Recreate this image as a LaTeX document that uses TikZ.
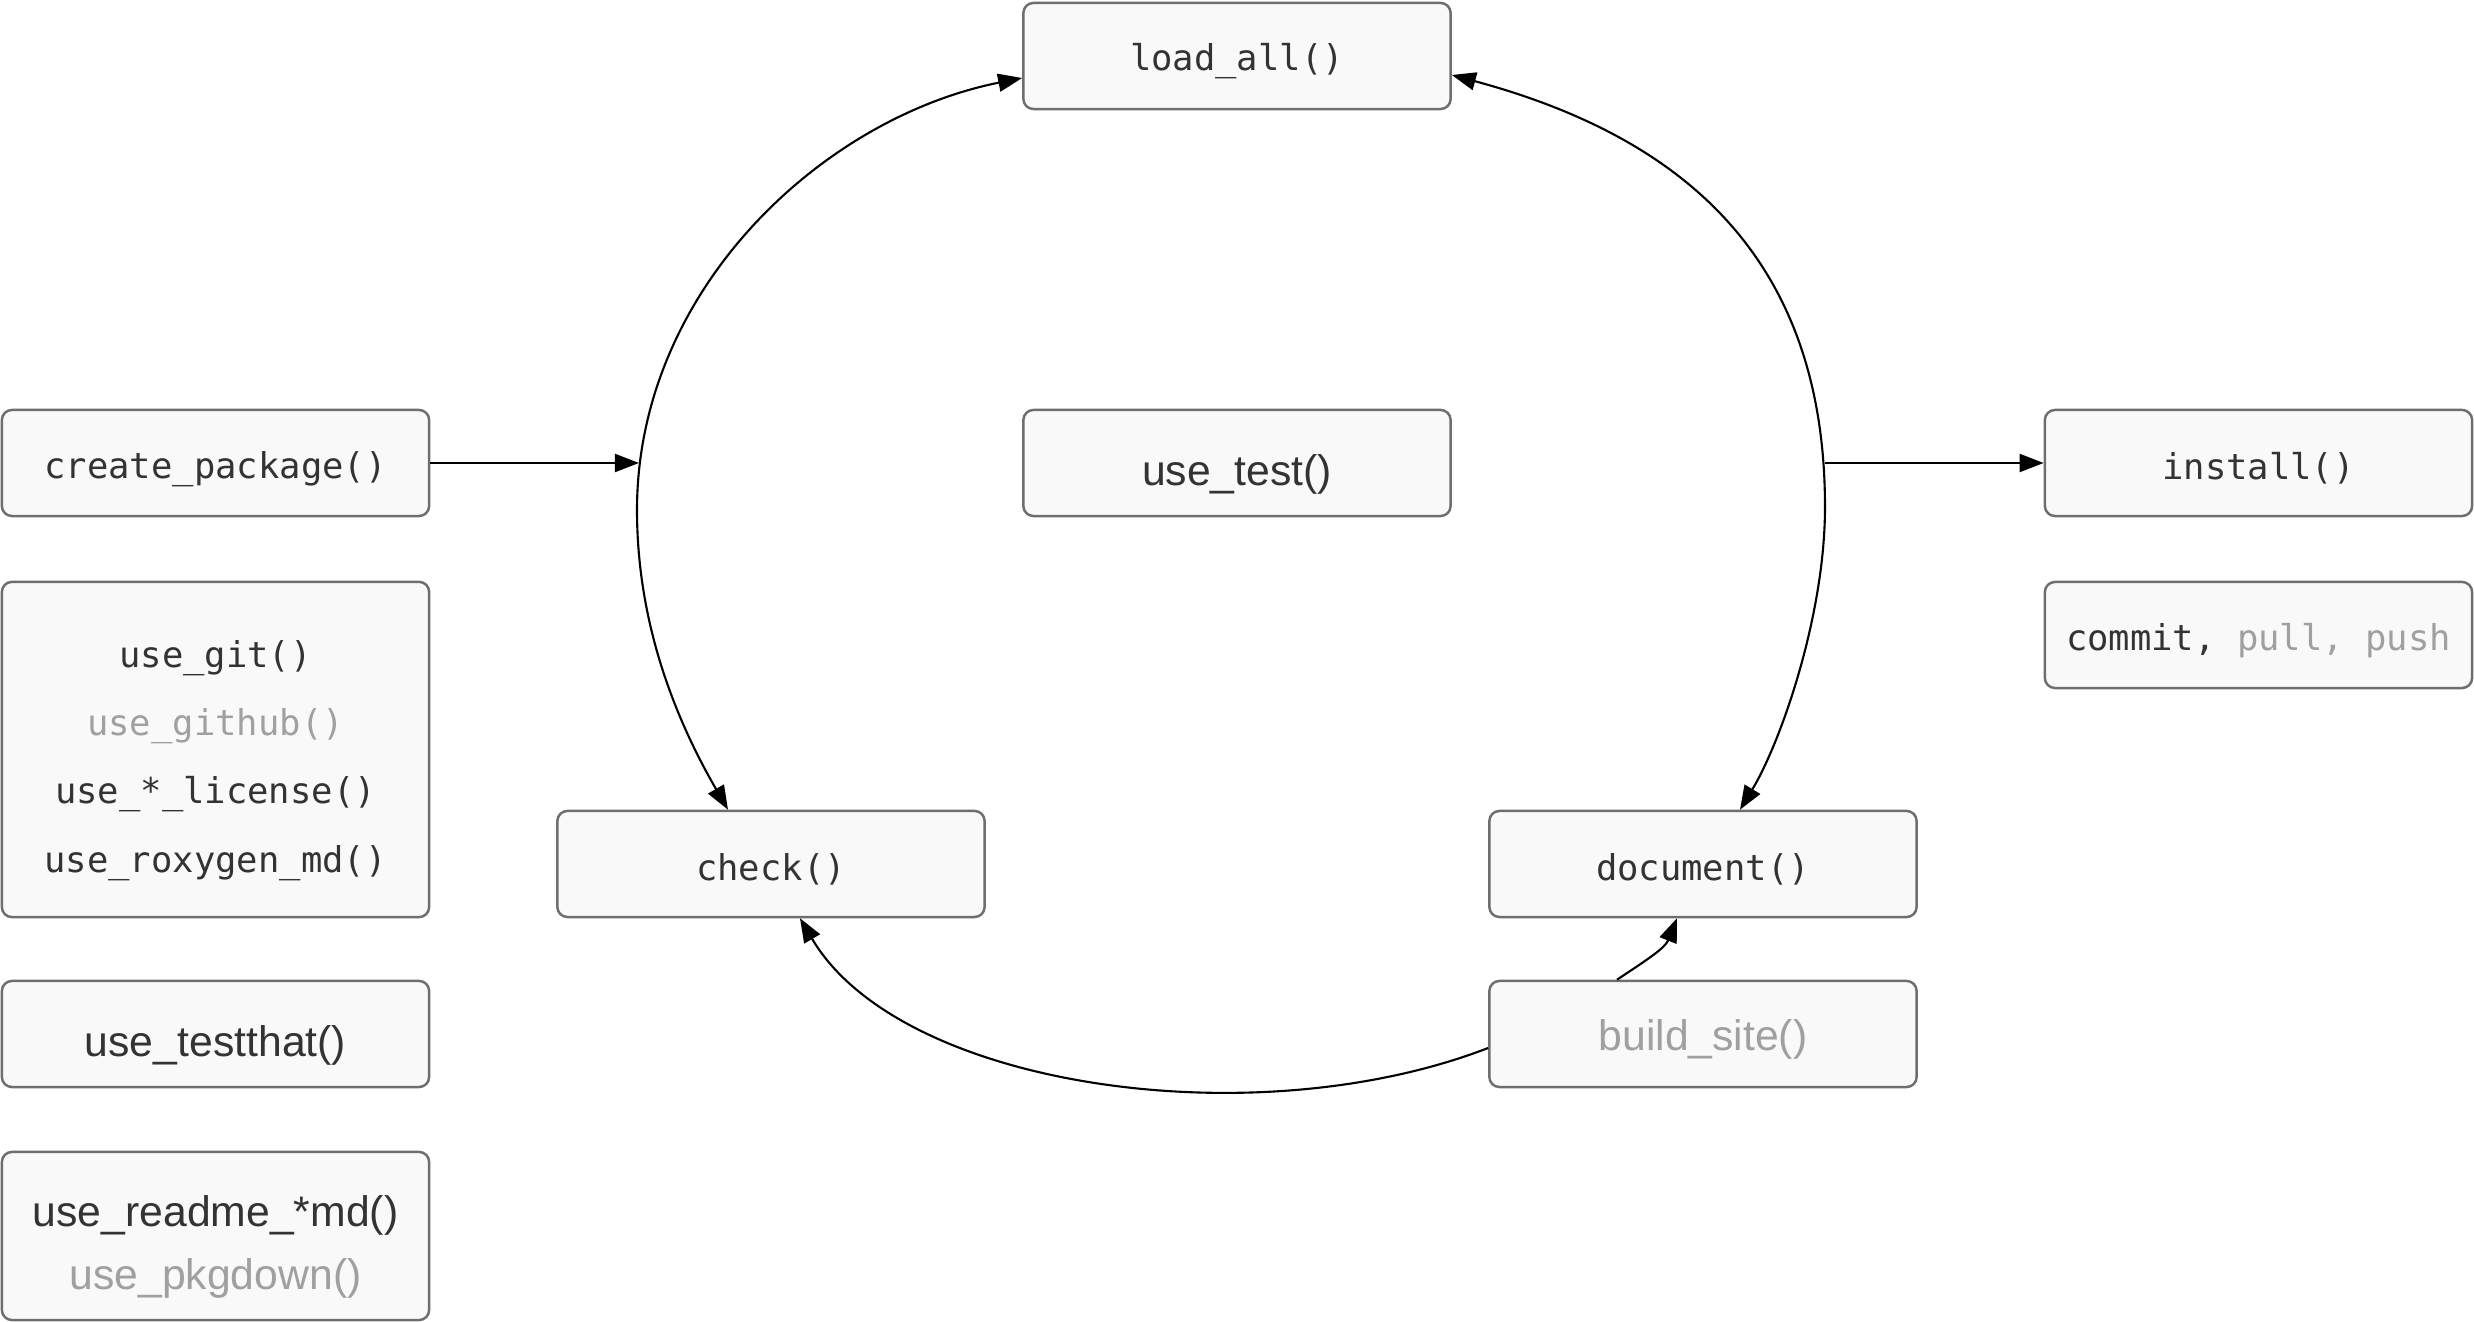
\documentclass[tikz,border=0pt]{standalone}
\usepackage{fontspec}
\setmainfont{Liberation Sans}
\newfontfamily\monof{DejaVu Sans Mono}
\newfontfamily\sansf{Liberation Sans}
\usetikzlibrary{arrows.meta,calc}
\definecolor{txt}{HTML}{333333}
\definecolor{dim}{HTML}{A0A0A0}
\definecolor{boxline}{HTML}{6E6E72}
\definecolor{boxfill}{HTML}{F9F9F9}
\begin{document}
\begin{tikzpicture}[x=0.01cm,y=-0.01cm,
  box/.style={draw=boxline, fill=boxfill, line width=0.7pt, rounded corners=0.1cm,
    minimum width=4.27cm, minimum height=1.06cm, inner sep=0pt},
  lbl/.style={text=txt, align=center, inner sep=0pt},
  mono/.style={font=\monof\fontsize{10.1}{19.4}\selectfont},
  sans/.style={font=\sansf\fontsize{12.15}{17.9}\selectfont},
  conn/.style={line width=0.6pt, draw=black},
  >={Triangle[length=0.24cm,width=0.18cm]}
]
\useasboundingbox (0,0) rectangle (2474,1322);

\node[box, label={[lbl,mono,yshift=-0.055cm]center:load\_all()}] (loadall) at (1237,56) {};
\node[box, label={[lbl,mono,yshift=-0.06cm]center:create\_package()}] (createpkg) at (215.5,463) {};
\node[box, label={[lbl,sans,yshift=-0.11cm]center:use\_test()}] (usetest) at (1237,463) {};
\node[box, label={[lbl,mono,yshift=-0.055cm]center:install()}] (install) at (2258.5,463) {};
\node[box, minimum height=3.35cm,
  label={[lbl,mono,yshift=-0.11cm]center:use\_git()\\\textcolor{dim}{use\_github()}\\use\_*\_license()\\use\_roxygen\_md()}]
  (gitbox) at (215.5,749.5) {};
\node[box, label={[lbl,mono,yshift=-0.055cm]center:commit, \textcolor{dim}{pull, push}}] (commit) at (2258.5,635) {};
\node[box, label={[lbl,mono,yshift=-0.055cm]center:check()}] (check) at (771,864) {};
\node[box, label={[lbl,mono,yshift=-0.055cm]center:document()}] (document) at (1703,864) {};
\node[box, label={[lbl,sans,yshift=-0.11cm]center:use\_testthat()}] (testthat) at (215.5,1034) {};
\node[box, label={[lbl,sans,text=dim,yshift=-0.05cm]center:build\_site()}] (buildsite) at (1703,1034) {};
\node[box, minimum height=1.68cm,
  label={[lbl,sans,yshift=-0.11cm]center:use\_readme\_*md()\\\textcolor{dim}{use\_pkgdown()}}]
  (readme) at (215.5,1236) {};

\coordinate (lj) at (639,463);
\coordinate (lmid) at (637,510);
\coordinate (rj) at (1825,463);
\coordinate (rmid) at (1825,507);

\draw[conn,<->] ($(check.north)+(-43,0)$) .. controls +(-55,-95) and +(0,110) .. (lmid)
  .. controls +(0,-220) and +(-200,40) .. ($(loadall.west)+(0,22)$);
\draw[conn,<->] ($(loadall.east)+(0,19)$) .. controls +(230,62) and +(0,-250) .. (rmid)
  .. controls +(0,110) and +(40,-66) .. ($(document.north)+(37,0)$);
\draw[conn,->] (createpkg.east) -- (lj);
\draw[conn,->] (rj) -- (install.west);
\draw[conn,->] ($(buildsite.west)+(0,14)$) .. controls +(-233,90) and +(100,170) .. ($(check.south)+(29,0)$);
\draw[conn,->] ($(buildsite.north)+(-86,0)$) .. controls +(30,-20) and +(-12,30) .. ($(document.south)+(-26,0)$);
\end{tikzpicture}
\end{document}
